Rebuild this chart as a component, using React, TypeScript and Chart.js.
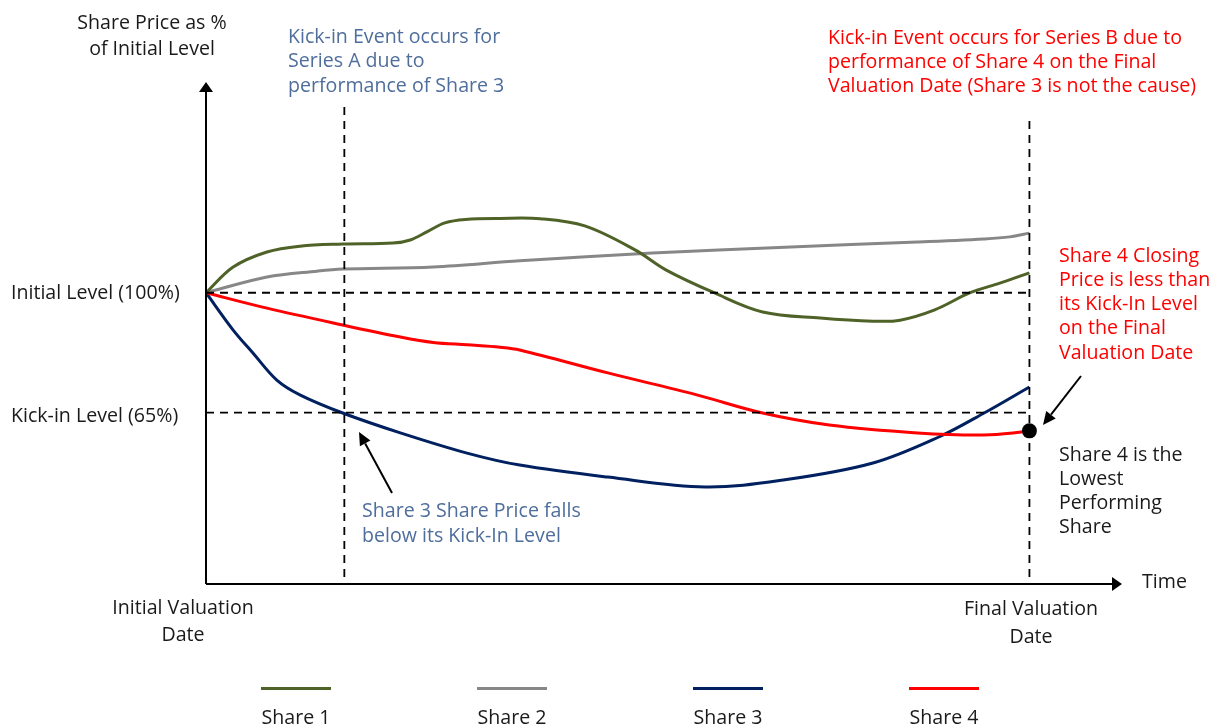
import React, { useEffect, useRef } from "react";
import { Chart, registerables } from "chart.js";

Chart.register(...registerables);

// ---- Data (time in % of term, price in % of initial level) ----
const share1Time = [0, 3.3, 7.4, 11.4, 16.6, 22.7, 24.8, 27.0, 29.0, 31.5, 35.7, 40.6, 46.0, 52.1, 55.9, 61.7, 67.6, 74.6, 81.0, 84.3, 88.5, 92.8, 96.4, 100];
const share1Values = [100, 107.5, 111.9, 113.6, 114.2, 114.5, 115.4, 118.0, 120.4, 121.4, 121.7, 121.6, 119.5, 112.5, 106.6, 100, 94.4, 92.6, 91.7, 92.0, 95.0, 100, 102.8, 105.8];

const share2Time = [0, 7.4, 13.5, 16.6, 27.6, 38.1, 54.2, 70.3, 86.4, 94.5, 97.6, 100];
const share2Values = [100, 104.6, 106.3, 106.9, 107.5, 109.3, 111.6, 113.3, 114.8, 115.7, 116.3, 117.4];

const share3Time = [0, 3.3, 5.7, 8.6, 11.4, 16.6, 23.6, 31.7, 38.1, 48.8, 60.6, 70.3, 81.0, 89.0, 94.5, 100];
const share3Values = [100, 89.1, 82.4, 74.5, 70.2, 64.9, 59.1, 53.2, 49.7, 46.2, 43.3, 45.4, 50.3, 57.9, 64.9, 72.5];

const share4Time = [0, 7.4, 16.6, 23.6, 27.6, 31.7, 35.7, 38.1, 48.8, 59.6, 67.6, 75.7, 86.4, 94.5, 99.3, 100];
const share4Values = [100, 95.5, 90.6, 87.1, 85.5, 84.8, 84.1, 83.3, 76.6, 70.2, 64.9, 61.4, 59.1, 58.5, 59.4, 59.7];

const seriesNames = ["Share 1", "Share 2", "Share 3", "Share 4"];
const seriesColors = ["#4F6228", "#878787", "#002060", "#FF0000"];

const initialLevel = 100;
const kickInLevel = 65;
const seriesAKickInTime = 16.8;
const finalTime = 100;

const FONT = "'Open Sans', 'Noto Sans', sans-serif";
const BLACK = "#1a1a1a";
const BLUE = "#4F6E9C";
const RED = "#FF0000";

function zip(t: number[], v: number[]) {
  return t.map((x, i) => ({ x, y: v[i] }));
}

const overlayPlugin = {
  id: "overlay",
  afterDraw(chart: any) {
    const { ctx, chartArea, scales } = chart;
    const xs = scales.x;
    const ys = scales.y;
    const x0 = chartArea.left;
    const y0 = chartArea.bottom;
    const xFinal = xs.getPixelForValue(finalTime);
    const xA = xs.getPixelForValue(seriesAKickInTime);
    const y100 = ys.getPixelForValue(initialLevel);
    const y65 = ys.getPixelForValue(kickInLevel);

    ctx.save();
    // dashed reference lines
    ctx.strokeStyle = "#000";
    ctx.lineWidth = 1.8;
    ctx.setLineDash([8, 6]);
    ctx.beginPath();
    ctx.moveTo(x0, y100);
    ctx.lineTo(xFinal, y100);
    ctx.moveTo(x0, y65);
    ctx.lineTo(xFinal, y65);
    ctx.moveTo(xA, 107);
    ctx.lineTo(xA, y0);
    ctx.moveTo(xFinal, 121);
    ctx.lineTo(xFinal, y0);
    ctx.stroke();
    ctx.setLineDash([]);

    // axes with arrowheads
    ctx.lineWidth = 2;
    ctx.beginPath();
    ctx.moveTo(x0, y0);
    ctx.lineTo(x0, chartArea.top + 8);
    ctx.moveTo(x0, y0);
    ctx.lineTo(chartArea.right - 8, y0);
    ctx.stroke();
    ctx.fillStyle = "#000";
    ctx.beginPath();
    ctx.moveTo(x0, chartArea.top);
    ctx.lineTo(x0 - 7, chartArea.top + 10);
    ctx.lineTo(x0 + 7, chartArea.top + 10);
    ctx.closePath();
    ctx.fill();
    ctx.beginPath();
    ctx.moveTo(chartArea.right + 2, y0);
    ctx.lineTo(chartArea.right - 8, y0 - 7);
    ctx.lineTo(chartArea.right - 8, y0 + 7);
    ctx.closePath();
    ctx.fill();

    // pointer arrows
    const arrow = (tx: number, ty: number, hx: number, hy: number) => {
      const ang = Math.atan2(hy - ty, hx - tx);
      const len = 13;
      const bx = hx - len * Math.cos(ang);
      const by = hy - len * Math.sin(ang);
      ctx.lineWidth = 2;
      ctx.beginPath();
      ctx.moveTo(tx, ty);
      ctx.lineTo(bx, by);
      ctx.stroke();
      ctx.beginPath();
      ctx.moveTo(hx, hy);
      ctx.lineTo(bx + 6 * Math.sin(ang), by - 6 * Math.cos(ang));
      ctx.lineTo(bx - 6 * Math.sin(ang), by + 6 * Math.cos(ang));
      ctx.closePath();
      ctx.fill();
    };
    arrow(392, 493, 359, 432);
    arrow(1081, 376, 1043, 425);

    // texts
    ctx.textBaseline = "middle";
    ctx.font = `19.6px ${FONT}`;
    const lines = (arr: string[], x: number, y: number, lh: number, color: string, align: CanvasTextAlign = "left") => {
      ctx.fillStyle = color;
      ctx.textAlign = align;
      arr.forEach((s, i) => ctx.fillText(s, x, y + i * lh));
    };
    lines(["Share Price as %", "of Initial Level"], 152, 23, 26, BLACK, "center");
    lines(["Initial Level (100%)"], 11, 293, 24, BLACK);
    lines(["Kick-in Level (65%)"], 11, 416, 24, BLACK);
    lines(["Kick-in Event occurs for", "Series A due to", "performance of Share 3"], 288, 37, 24.5, BLUE);
    lines(["Kick-in Event occurs for Series B due to", "performance of Share 4 on the Final", "Valuation Date (Share 3 is not the cause)"], 828, 38, 24.2, RED);
    lines(["Share 4 Closing", "Price is less than", "its Kick-In Level", "on the Final", "Valuation Date"], 1059, 256, 24.3, RED);
    lines(["Share 4 is the", "Lowest", "Performing", "Share"], 1059, 455, 24, BLACK);
    lines(["Share 3 Share Price falls", "below its Kick-In Level"], 362, 511, 25, BLUE);
    lines(["Time"], 1142, 582, 24, BLACK);
    lines(["Initial Valuation", "Date"], 183, 608, 27, BLACK, "center");
    lines(["Final Valuation", "Date"], 1031, 609, 28, BLACK, "center");

    // custom legend
    const legendCenters = [296, 512, 728, 944];
    chart.data.datasets.forEach((ds: any, i: number) => {
      const cx = legendCenters[i];
      ctx.strokeStyle = ds.borderColor;
      ctx.lineWidth = 3;
      ctx.beginPath();
      ctx.moveTo(cx - 35, 688.5);
      ctx.lineTo(cx + 35, 688.5);
      ctx.stroke();
      ctx.fillStyle = BLACK;
      ctx.textAlign = "center";
      ctx.fillText(ds.label, cx, 718);
    });
    ctx.restore();
  },
};

export default function App() {
  const ref = useRef<HTMLCanvasElement | null>(null);
  useEffect(() => {
    if (!ref.current) return;
    const times = [share1Time, share2Time, share3Time, share4Time];
    const vals = [share1Values, share2Values, share3Values, share4Values];
    const chart = new Chart(ref.current, {
      type: "line",
      data: {
        datasets: seriesNames.map((name, i) => {
          const n = times[i].length;
          const isShare4 = i === 3;
          return {
            label: name,
            data: zip(times[i], vals[i]),
            borderColor: seriesColors[i],
            backgroundColor: seriesColors[i],
            borderWidth: 3,
            tension: 0.35,
            pointRadius: (c: any) => (isShare4 && c.dataIndex === n - 1 ? 7.5 : 0),
            pointBackgroundColor: "#000",
            pointBorderColor: "#000",
            pointBorderWidth: 0,
            fill: false,
            order: isShare4 ? 0 : 1,
          };
        }),
      },
      options: {
        responsive: false,
        animation: false,
        layout: { padding: { left: 206, right: 91, top: 82, bottom: 144 } },
        scales: {
          x: { type: "linear", min: 0, max: 111, display: false },
          y: { type: "linear", min: 15, max: 161.5, display: false },
        },
        plugins: {
          legend: { display: false },
          tooltip: { enabled: false },
        },
      },
      plugins: [overlayPlugin],
    });
    return () => chart.destroy();
  }, []);

  return (
    <div style={{ position: "absolute", left: 0, top: 0, width: 1211, height: 728, background: "#fff" }}>
      <canvas ref={ref} width={1211} height={728} style={{ display: "block", width: 1211, height: 728 }} />
    </div>
  );
}
